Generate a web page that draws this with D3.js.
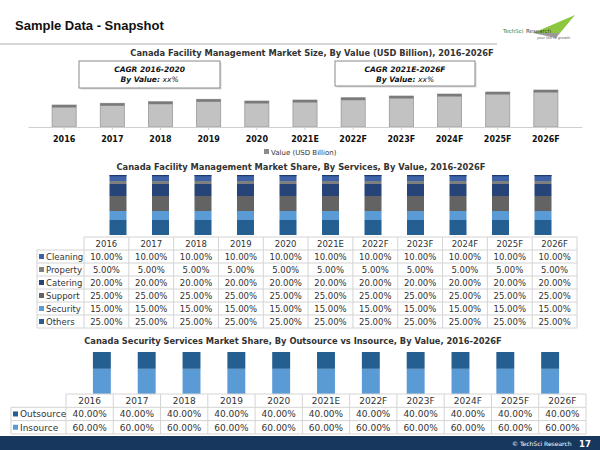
<!DOCTYPE html>
<html><head><meta charset="utf-8">
<script src="https://cdn.jsdelivr.net/npm/d3@7"></script>
<style>body{margin:0;background:#fff}svg{display:block}</style>
</head><body><svg id="c" width="600" height="450"></svg>
<script>
const years = ["2016","2017","2018","2019","2020","2021E","2022F","2023F","2024F","2025F","2026F"];
const marketValue = [11.0,11.85,12.65,13.85,13.0,13.5,14.65,15.5,16.5,17.5,18.5];
const serviceNames = ["Cleaning","Property","Catering","Support","Security","Others"];
const cleaning = [10,10,10,10,10,10,10,10,10,10,10];
const property = [5,5,5,5,5,5,5,5,5,5,5];
const catering = [20,20,20,20,20,20,20,20,20,20,20];
const support = [25,25,25,25,25,25,25,25,25,25,25];
const security = [15,15,15,15,15,15,15,15,15,15,15];
const others = [25,25,25,25,25,25,25,25,25,25,25];
const sourceNames = ["Outsource","Insource"];
const outsource = [40,40,40,40,40,40,40,40,40,40,40];
const insource = [60,60,60,60,60,60,60,60,60,60,60];

const svg = d3.select("#c");
const F = "DejaVu Sans, Verdana, sans-serif";
const fmt = v => v.toFixed(2) + "%";

// header
svg.append("text").attr("x",15).attr("y",30).attr("font-family","Liberation Sans, Arial").attr("font-weight","bold").attr("font-size",13).attr("fill","#111").text("Sample Data - Snapshot");
svg.append("line").attr("x1",0).attr("x2",497).attr("y1",44).attr("y2",44).attr("stroke","#c8c8c8").attr("stroke-width",1.5);
// logo
const lg = svg.append("g");
lg.append("path").attr("d","M533,33 L575,15 L560,33 Z").attr("fill","#8dc63f");
lg.append("path").attr("d","M533,33 L560,33 L556,38 Z").attr("fill","#9a9a9a");
lg.append("text").attr("x",503).attr("y",33).attr("font-family",F).attr("font-size",5.5).attr("fill","#3a7d3a").text("TechSci");
lg.append("text").attr("x",526).attr("y",33).attr("font-family",F).attr("font-size",5.5).attr("fill","#444").text("Research");
lg.append("text").attr("x",537).attr("y",39).attr("font-family",F).attr("font-style","italic").attr("font-size",3.5).attr("fill","#555").text("your link to growth");

// ---------- Chart 1 ----------
const x1 = d3.scaleBand().domain(years).range([28,582]).padding(0.5);
const y1 = d3.scaleLinear().domain([0,20]).range([127,87]);
svg.append("text").attr("x",312).attr("y",56).attr("text-anchor","middle").attr("font-family",F).attr("font-weight","bold").attr("font-size",8.3).attr("fill","#333")
  .text("Canada Facility Management Market Size, By Value (USD Billion), 2016-2026F");
const g1 = svg.append("g");
g1.selectAll("rect.b").data(years).join("rect").attr("class","b")
  .attr("x",d=>x1(d)).attr("width",x1.bandwidth())
  .attr("y",(d,i)=>y1(marketValue[i])).attr("height",(d,i)=>y1(0)-y1(marketValue[i]))
  .attr("fill","#c2c2c2").attr("stroke","#9a9a9a").attr("stroke-width",0.8);
g1.selectAll("rect.t").data(years).join("rect").attr("class","t")
  .attr("x",d=>x1(d)).attr("width",x1.bandwidth())
  .attr("y",(d,i)=>y1(marketValue[i])).attr("height",2.5).attr("fill","#7a7a7a");
const ax1 = svg.append("g").attr("transform","translate(0,127)").call(d3.axisBottom(x1).tickSize(3).tickSizeOuter(0));
ax1.select(".domain").attr("stroke","#d0d0d0");
ax1.selectAll(".tick line").attr("stroke","#d0d0d0");
ax1.selectAll("text").attr("font-family",F).attr("font-weight","bold").attr("font-size",8).attr("fill","#111").attr("dy","1.1em");
// legend 1
svg.append("rect").attr("x",264).attr("y",149).attr("width",5).attr("height",5).attr("fill","#8c8c8c");
svg.append("text").attr("x",271).attr("y",155).attr("font-family",F).attr("font-size",7).attr("fill","#333").text("Value (USD Billion)");
// CAGR boxes
function cagr(x,y,w,h,l1){
  svg.append("rect").attr("x",x+1.5).attr("y",y+1.5).attr("width",w).attr("height",h).attr("fill","#d9d9d9");
  svg.append("rect").attr("x",x).attr("y",y).attr("width",w).attr("height",h).attr("fill","#fff").attr("stroke","#8a8a8a").attr("stroke-width",1);
  svg.append("text").attr("x",x+w/2).attr("y",y+11).attr("text-anchor","middle").attr("font-family",F).attr("font-weight","bold").attr("font-style","italic").attr("font-size",7.5).attr("fill","#111").text(l1);
  const t = svg.append("text").attr("x",x+w/2).attr("y",y+21).attr("text-anchor","middle").attr("font-family",F).attr("font-style","italic").attr("font-size",7.5).attr("fill","#111");
  t.append("tspan").attr("font-weight","bold").text("By Value: ");
  t.append("tspan").text("xx%");
}
cagr(79,61,141,27,"CAGR 2016-2020");
cagr(335,61,140,25,"CAGR 2021E-2026F");

// ---------- Chart 2 ----------
svg.append("text").attr("x",301).attr("y",170).attr("text-anchor","middle").attr("font-family",F).attr("font-weight","bold").attr("font-size",8.3).attr("fill","#333")
  .text("Canada Facility Management  Market Share, By Services, By Value, 2016-2026F");
const x2 = d3.scaleBand().domain(years).range([84,577]).padding(0.6);
const y2 = d3.scaleLinear().domain([0,100]).range([235,175]);
const svcSeries = {Cleaning:cleaning,Property:property,Catering:catering,Support:support,Security:security,Others:others};
const svcColor = {Cleaning:"#3d62a8",Property:"#7f7f7f",Catering:"#264478",Support:"#636363",Security:"#5b9bd5",Others:"#255e91"};
const stackOrder = ["Others","Security","Support","Catering","Property","Cleaning"];
const rows2 = years.map((y,i)=>{const o={year:y};serviceNames.forEach(n=>o[n]=svcSeries[n][i]);return o;});
const st2 = d3.stack().keys(stackOrder)(rows2);
svg.append("g").selectAll("g").data(st2).join("g").attr("fill",d=>svcColor[d.key])
  .selectAll("rect").data(d=>d).join("rect")
  .attr("x",d=>x2(d.data.year)).attr("width",x2.bandwidth())
  .attr("y",d=>y2(d[1])).attr("height",d=>y2(d[0])-y2(d[1]));
svg.append("g").selectAll("rect").data(years).join("rect")
  .attr("x",d=>x2(d)).attr("width",x2.bandwidth()).attr("y",y2(100)).attr("height",1.2).attr("fill","#1f3a6e");

function table(xs, top, rh, labelX, names, series, colors, fs){
  const g = svg.append("g");
  const left = xs.range()[0], right = xs.range()[1], step = xs.step();
  const nRows = names.length;
  const gc = "#d4d4d4";
  g.append("line").attr("x1",left).attr("x2",right).attr("y1",top).attr("y2",top).attr("stroke",gc);
  for(let r=1;r<=nRows+1;r++){
    g.append("line").attr("x1",labelX).attr("x2",right).attr("y1",top+r*rh).attr("y2",top+r*rh).attr("stroke",gc);
  }
  g.append("line").attr("x1",labelX).attr("x2",labelX).attr("y1",top+rh).attr("y2",top+(nRows+1)*rh).attr("stroke",gc);
  for(let c=0;c<=years.length;c++){
    g.append("line").attr("x1",left+c*step).attr("x2",left+c*step).attr("y1",top).attr("y2",top+(nRows+1)*rh).attr("stroke",gc);
  }
  g.selectAll("text.h").data(years).join("text").attr("class","h")
    .attr("x",d=>xs(d)+xs.bandwidth()/2).attr("y",top+rh/2+3.3).attr("text-anchor","middle")
    .attr("font-family",F).attr("font-size",fs).attr("fill","#333").text(d=>d);
  names.forEach((n,r)=>{
    const yy = top+(r+1)*rh;
    g.append("rect").attr("x",labelX+2).attr("y",yy+rh/2-2.5).attr("width",5).attr("height",5).attr("fill",colors[n]);
    g.append("text").attr("x",labelX+9).attr("y",yy+rh/2+3.3).attr("font-family",F).attr("font-size",fs).attr("fill","#333").text(n);
    g.selectAll(null).data(years).join("text")
      .attr("x",d=>xs(d)+xs.bandwidth()/2).attr("y",yy+rh/2+3.3).attr("text-anchor","middle")
      .attr("font-family",F).attr("font-size",fs).attr("fill","#333").text((d,i)=>fmt(series[n][i]));
  });
}
table(x2.copy().padding(0), 237, 13, 37, serviceNames, svcSeries, svcColor, 8.5);

// ---------- Chart 3 ----------
svg.append("text").attr("x",293).attr("y",344).attr("text-anchor","middle").attr("font-family",F).attr("font-weight","bold").attr("font-size",8.3).attr("fill","#333")
  .text("Canada Security Services  Market Share, By Outsource vs Insource, By Value, 2016-2026F");
const x3 = d3.scaleBand().domain(years).range([66,586]).padding(0.6);
const y3 = d3.scaleLinear().domain([0,100]).range([394,352]);
const srcSeries = {Outsource:outsource,Insource:insource};
const srcColor = {Outsource:"#255e91",Insource:"#5b9bd5"};
const rows3 = years.map((y,i)=>({year:y,Outsource:outsource[i],Insource:insource[i]}));
const st3 = d3.stack().keys(["Insource","Outsource"])(rows3);
svg.append("g").selectAll("g").data(st3).join("g").attr("fill",d=>srcColor[d.key])
  .selectAll("rect").data(d=>d).join("rect")
  .attr("x",d=>x3(d.data.year)).attr("width",x3.bandwidth())
  .attr("y",d=>y3(d[1])).attr("height",d=>y3(d[0])-y3(d[1]));
table(x3.copy().padding(0), 394, 13.3, 11, sourceNames, srcSeries, srcColor, 9);

// footer
svg.append("rect").attr("x",0).attr("y",436).attr("width",600).attr("height",14).attr("fill","#17375e");
svg.append("text").attr("x",512).attr("y",446).attr("font-family",F).attr("font-size",6).attr("fill","#fff").text("© TechSci Research");
svg.append("text").attr("x",579).attr("y",446.5).attr("font-family",F).attr("font-weight","bold").attr("font-size",8.5).attr("fill","#fff").text("17");
</script></body></html>
